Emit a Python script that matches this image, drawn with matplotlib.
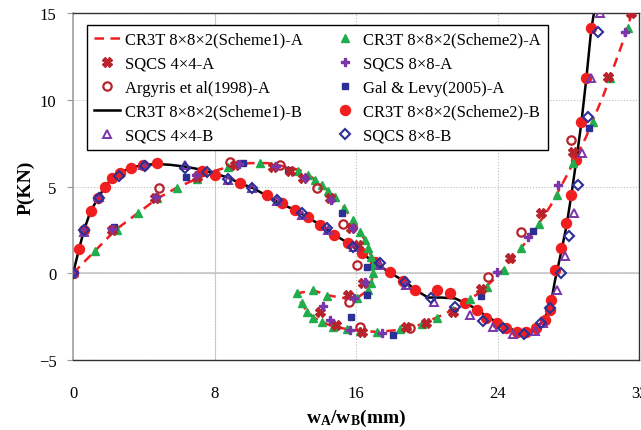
import matplotlib
matplotlib.use("Agg")
import matplotlib.pyplot as plt

plt.rcParams["font.family"] = ["Liberation Serif", "DejaVu Serif"]
plt.rcParams["mathtext.fontset"] = "custom"
plt.rcParams["mathtext.rm"] = "Liberation Serif"
plt.rcParams["mathtext.bf"] = "Liberation Serif:bold"
plt.rcParams["mathtext.it"] = "Liberation Serif:italic"

# CR3T 8x8x2 (Scheme1) - A, dashed red
s1a_x = [0, 1.24, 2.4, 3.7, 4.75, 5.9, 7.0, 8.0, 9.0, 10.0, 11.0, 12.0, 12.8, 13.3, 13.7,
         14.05, 14.42, 14.8, 15.3, 15.84, 16.21, 16.5, 16.68, 16.87, 16.95, 16.95, 16.87,
         16.68, 16.03, 15.2, 14.33, 13.58, 12.7, 12.9, 13.25, 13.6, 14.05, 14.7, 15.5, 16.2,
         17.2, 18.3, 19.2, 20.0, 21.0, 22.0, 23.0, 24.0, 25.0, 26.0, 27.0, 28.0, 29.0, 30.0,
         31.0, 31.6]
s1a_y = [0, 1.29, 2.5, 3.5, 4.3, 4.95, 5.45, 5.9, 6.2, 6.35, 6.35, 6.15, 5.95, 5.67, 5.38,
         5.09, 4.74, 4.42, 3.8, 3.07, 2.4, 1.92, 1.44, 0.96, 0.48, 0.0, -0.58,
         -0.98, -1.44, -1.42, -1.25, -0.98, -1.15, -1.75, -2.2, -2.55, -2.8, -3.07, -3.22, -3.32,
         -3.38, -3.28, -3.13, -2.8, -2.35, -1.8, -1.1, -0.15, 1.0, 2.35, 3.9, 5.8, 7.85, 10.3,
         13.1, 15.0]

# CR3T 8x8x2 (Scheme1) - B, solid black
s1b_x = [0, 0.34, 0.62, 1.0, 1.43, 1.81, 2.22, 2.66, 3.28, 3.97, 4.76, 5.5, 6.33, 7.36, 8.12,
         8.68, 9.44, 10.19, 11.04, 11.69, 12.54, 13.3, 14.05, 14.8, 15.55, 16.21, 16.97, 17.81,
         18.76, 19.42, 20.07, 20.8, 21.6, 22.24, 22.9, 23.37, 24.31, 24.88, 25.44, 26.0, 26.2,
         26.6, 26.95, 27.0, 27.25, 27.55, 27.89, 28.17, 28.45, 28.74, 29.02, 29.3, 29.45]
s1b_y = [0, 1.4, 2.5, 3.6, 4.36, 5.0, 5.48, 5.8, 6.09, 6.24, 6.3, 6.25, 6.15, 5.95, 5.7,
         5.55, 5.19, 4.9, 4.42, 4.03, 3.65, 3.2, 2.75, 2.21, 1.73, 1.25, 0.67, 0.1,
         -0.48, -1.0, -1.4, -1.4, -1.45, -1.75, -2.11, -2.5, -2.98, -3.27, -3.42, -3.32, -3.15,
         -2.7, -2.0, -1.8, -0.4, 1.0, 2.7, 4.5, 6.5, 8.7, 11.25, 14.1, 15.0]

# SQCS 4x4 - A
sq44a_x = [0, 2.19, 4.63, 6.99, 9.15, 11.32, 12.26, 13.0, 14.52, 15.74, 16.12, 16.4, 15.55,
           13.95, 14.85, 16.31, 18.85, 19.98, 21.49, 23.04, 24.73, 26.48, 28.27, 30.24, 31.56]
sq44a_y = [0, 2.5, 4.36, 5.57, 6.24, 6.15, 5.9, 5.51, 4.32, 2.59, 1.63, -0.58, -1.25,
           -2.21, -3.0, -3.36, -3.07, -2.88, -2.21, -0.88, 0.9, 3.5, 7.0, 11.34, 15.0]

# SQCS 8x8 - A
sq88a_x = [0, 2.2, 4.7, 6.95, 9.4, 11.5, 13.1, 14.6, 15.84, 16.5, 15.9, 14.14, 14.52, 15.65,
           17.44, 23.94, 25.72, 27.42, 31.19]
sq88a_y = [0, 2.55, 4.4, 5.67, 6.3, 6.2, 5.51, 4.23, 2.59, -0.48, -1.4, -1.87, -2.69, -3.27,
           -3.46, 0.1, 2.11, 5.09, 13.93]

# Argyris et al (1998) - A
arg_x = [0, 4.88, 8.87, 11.69, 13.77, 15.27, 16.03, 15.6, 16.21, 19.04, 23.46, 25.35, 28.17]
arg_y = [0, 4.9, 6.44, 6.24, 4.9, 2.83, 0.5, -1.68, -3.07, -3.17, -0.19, 2.4, 7.68]

# Gal & Levy (2005) - A
gal_x = [0, 2.33, 6.38, 9.62, 12.16, 15.18, 16.59, 16.59, 15.74, 18.1, 23.09, 26.03, 29.17]
gal_y = [0, 2.69, 5.55, 6.34, 5.95, 3.46, 0.38, -1.25, -2.5, -3.55, -1.29, 2.45, 8.4]

# CR3T 8x8x2 (Scheme2) - A
s2a_x = [0, 1.24, 2.47, 3.69, 4.73, 5.9, 6.99, 8.77, 10.56, 12.73, 13.3, 13.67, 14.05, 14.42,
         14.8, 15.3, 15.84, 16.21, 16.5, 16.68, 16.87, 16.93, 16.93, 16.87, 16.68, 16.03, 14.33,
         13.58, 12.67, 12.92, 13.24, 13.58, 14.05, 14.71, 15.46, 16.21, 17.16, 18.47, 19.7,
         20.55, 21.49, 22.43, 23.41, 24.35, 25.35, 26.35, 27.36, 28.27, 29.4, 30.34, 31.37]
s2a_y = [0, 1.29, 2.5, 3.5, 4.32, 4.94, 5.42, 6.15, 6.34, 5.9, 5.67, 5.38, 5.09, 4.74,
         4.42, 3.75, 3.07, 2.4, 1.92, 1.44, 0.96, 0.48, 0.0, -0.58, -0.96, -1.44, -1.29,
         -0.96, -1.15, -1.73, -2.21, -2.55, -2.79, -3.07, -3.21, -3.32, -3.36, -3.2, -2.94,
         -2.57, -2.11, -1.5, -0.77, 0.19, 1.44, 2.82, 4.51, 6.34, 8.7, 11.24, 14.12]

# CR3T 8x8x2 (Scheme2) - B
s2b_x = [0, 0.34, 0.62, 1.0, 1.43, 1.81, 2.22, 2.66, 3.28, 3.97, 4.76, 7.27, 8.05, 9.44, 10.94,
         11.79, 12.54, 13.3, 13.95, 14.75, 15.55, 16.31, 17.06, 17.91, 18.66, 19.32, 20.6, 21.3,
         22.15, 22.81, 23.37, 23.94, 24.5, 25.07, 25.63, 26.2, 26.67, 26.95, 27.04, 27.23,
         27.61, 27.89, 28.17, 28.45, 28.74, 29.02, 29.3]
s2b_y = [0, 1.4, 2.5, 3.6, 4.36, 5.0, 5.48, 5.8, 6.09, 6.24, 6.38, 5.9, 5.68, 5.19, 4.51,
         4.03, 3.65, 3.27, 2.78, 2.2, 1.73, 1.15, 0.67, 0.1, -0.45, -0.96, -0.96, -1.15,
         -1.73, -2.11, -2.59, -2.88, -3.17, -3.36, -3.4, -3.17, -2.69, -2.11, -1.54, 0.2,
         1.44, 2.88, 4.51, 6.53, 8.74, 11.24, 14.12]

# SQCS 4x4 - B
sq44b_x = [0, 0.62, 1.45, 3.97, 6.33, 8.77, 10.1, 11.51, 12.92, 14.42, 15.9, 17.34, 18.85,
           20.4, 22.43, 23.75, 24.88, 26.13, 26.55, 27.38, 27.82, 28.3, 28.8, 29.3, 29.77]
sq44b_y = [0, 2.4, 4.4, 6.24, 6.24, 5.4, 4.94, 4.15, 3.36, 2.5, 1.5, 0.48, -0.67,
           -1.63, -2.4, -3.07, -3.5, -3.34, -2.88, -0.96, 0.98, 3.46, 6.92, 11.28, 15.0]

# SQCS 8x8 - B
sq88b_x = [0, 0.62, 1.49, 2.62, 4.07, 6.33, 7.6, 8.77, 10.1, 11.51, 12.92, 14.33, 15.84,
           17.34, 18.76, 20.26, 21.58, 23.18, 24.31, 25.5, 26.48, 26.95, 27.61, 28.06, 28.55,
           29.1, 29.66]
sq88b_y = [0, 2.5, 4.36, 5.63, 6.2, 6.09, 5.81, 5.44, 4.9, 4.23, 3.46, 2.59, 1.54,
           0.6, -0.48, -1.42, -1.92, -2.75, -3.17, -3.5, -2.88, -2.0, 0.0, 2.15, 5.09,
           9.03, 13.93]

RED = "#f01e1e"
DARKRED = "#b8232b"
GREEN = "#1fae4b"
PURPLE = "#7a35a8"
NAVY = "#2b2f96"

fig = plt.figure(figsize=(6.41, 4.31), dpi=100)
ax = fig.add_axes([0.114, 0.1624, 0.883, 0.805])

h1, = ax.plot(s1a_x, s1a_y, color=RED, lw=1.8, ls=(0, (3.8, 2.6)), zorder=2,
              label="CR3T 8×8×2(Scheme1)-A")
h4, = ax.plot(s1b_x, s1b_y, color="black", lw=1.8, zorder=2,
              label="CR3T 8×8×2(Scheme1)-B")
h9, = ax.plot(s2b_x, s2b_y, ls="none", marker="o", ms=7.2, color=RED, mec=RED, zorder=3,
              label="CR3T 8×8×2(Scheme2)-B")
h6, = ax.plot(s2a_x, s2a_y, ls="none", marker="^", ms=5.5, color=GREEN, mec=GREEN, zorder=4,
              label="CR3T 8×8×2(Scheme2)-A")
h8, = ax.plot(gal_x, gal_y, ls="none", marker="s", ms=5, color=NAVY, mec=NAVY, zorder=4,
              label="Gal & Levy(2005)-A")
h3, = ax.plot(arg_x, arg_y, ls="none", marker="o", ms=6, mfc="none", mec=DARKRED, mew=1.6,
              zorder=5, label="Argyris et al(1998)-A")
h2, = ax.plot(sq44a_x, sq44a_y, ls="none", marker="X", ms=6.5, color=DARKRED, mec=DARKRED,
              zorder=5, label="SQCS 4×4-A")
h7, = ax.plot(sq88a_x, sq88a_y, ls="none", marker="P", ms=6, color=PURPLE, mec=PURPLE,
              zorder=5, label="SQCS 8×8-A")
h5, = ax.plot(sq44b_x, sq44b_y, ls="none", marker="^", ms=6, mfc="none", mec=PURPLE, mew=1.4,
              zorder=6, label="SQCS 4×4-B")
h10, = ax.plot(sq88b_x, sq88b_y, ls="none", marker="D", ms=4.8, mfc="none", mec=NAVY, mew=1.5,
               zorder=6, label="SQCS 8×8-B")

ax.set_xlim(0, 32)
ax.set_ylim(-5, 15)
ax.set_xticks([0, 8, 16, 24, 32])
ax.set_yticks([-5, 0, 5, 10, 15])
ax.tick_params(axis="x", length=0, pad=18, labelsize=12)
ax.tick_params(axis="y", length=4, width=0.8, color="#999999", pad=8, labelsize=12)

ax.grid(True, color="#bdbdbd", lw=0.8, ls=":")
ax.axhline(0, color="#c8c8c8", lw=1.2, zorder=1)
ax.axvline(8, color="#d0d0d0", lw=0.8, zorder=1)

for side in ["top", "right", "bottom"]:
    ax.spines[side].set_color("#333333")
    ax.spines[side].set_linewidth(1.0)
ax.spines["left"].set_color("#a0a0a0")
ax.spines["left"].set_linewidth(1.2)

ax.set_xlabel(r"$\mathbf{w_A/w_B}$(mm)", fontsize=14, fontweight="bold", labelpad=4)
ax.set_ylabel("P(KN)", fontsize=14, fontweight="bold", labelpad=3)

handles = [h1, h2, h3, h4, h5, h6, h7, h8, h9, h10]
leg = ax.legend(handles=handles, ncol=2, loc="upper left", bbox_to_anchor=(0.0247, 0.9654),
                borderaxespad=0, fontsize=12, frameon=True, fancybox=False,
                edgecolor="black", framealpha=1, handlelength=1.6, handletextpad=0.3,
                columnspacing=1.7, labelspacing=0.48, borderpad=0.4)
leg.get_frame().set_linewidth(1.0)

fig.savefig("out.png", dpi=100)
